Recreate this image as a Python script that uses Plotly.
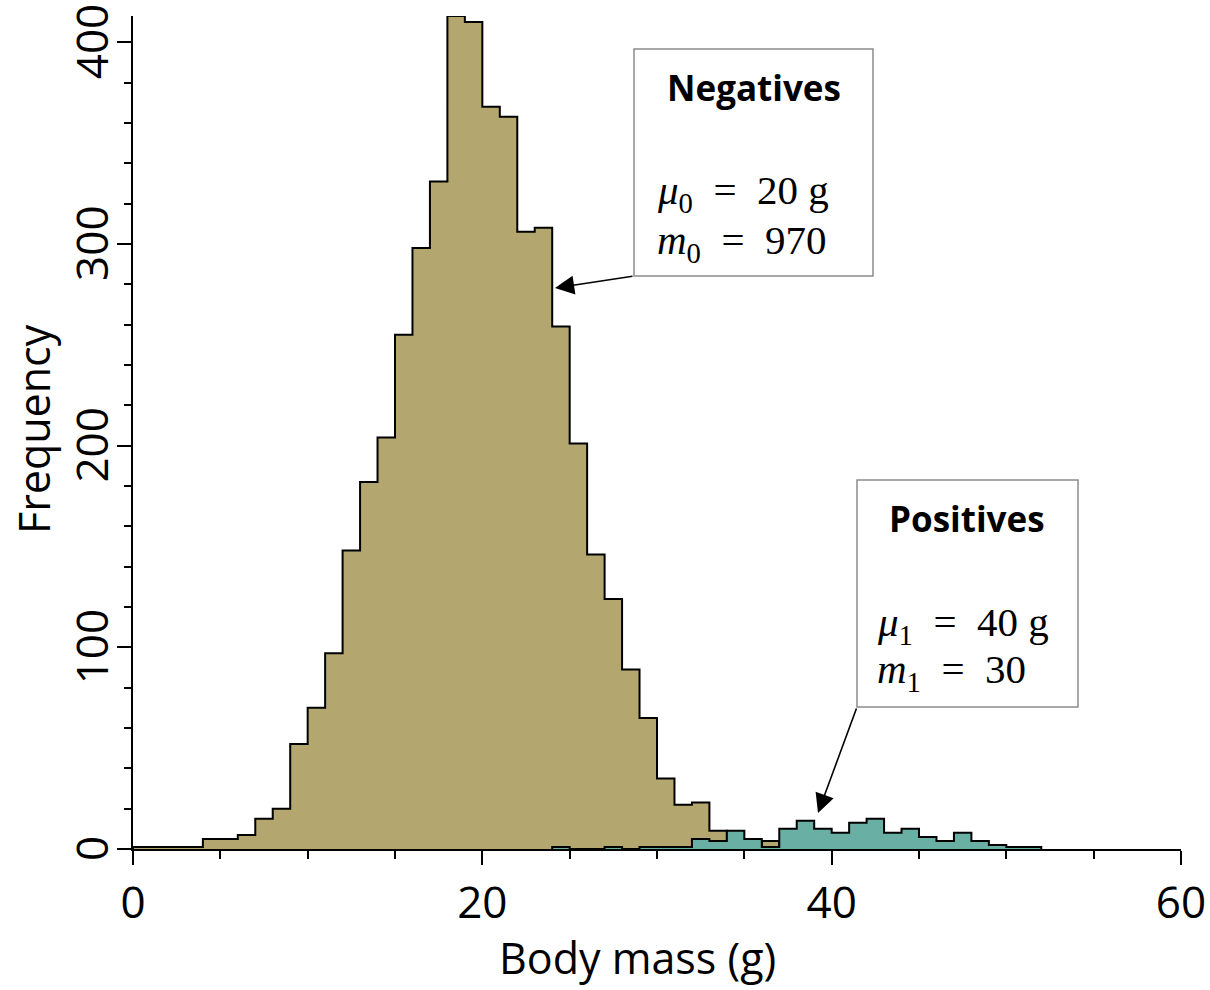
import plotly.graph_objects as go

# Histogram bins are 1 g wide; each count belongs to the bin starting at that mass.
neg_bin_start = [0, 1, 2, 3, 4, 5, 6, 7, 8, 9, 10, 11, 12, 13, 14, 15, 16, 17, 18,
                 19, 20, 21, 22, 23, 24, 25, 26, 27, 28, 29, 30, 31, 32, 33, 34, 35, 36]
neg_counts = [1, 1, 1, 1, 5, 5, 7, 15, 20, 52, 70, 97, 148, 182, 204, 255, 298, 331, 413,
              410, 368, 363, 306, 308, 259, 201, 146, 124, 89, 65, 35, 22, 23, 9, 3, 2, 4]

pos_bin_start = [24, 25, 26, 27, 28, 29, 30, 31, 32, 33, 34, 35, 36, 37, 38, 39, 40,
                 41, 42, 43, 44, 45, 46, 47, 48, 49, 50, 51]
pos_counts = [1, 0, 0, 1, 0, 1, 1, 1, 5, 4, 9, 5, 1, 10, 14, 10, 8,
              13, 15, 8, 10, 6, 4, 8, 4, 2, 1, 1]

BIN_W = 1
NEG_FILL = "#b3a66e"
POS_FILL = "#6aafa4"

x_ticks = [0, 20, 40, 60]
y_ticks = [0, 100, 200, 300, 400]
y_tick_labels = ["0", "100", "200", "300", "400"]

# plot-area geometry in pixels
W, H = 1210, 990
L, R, T, B = 133, 1181, 16, 849


def px(xp):
    return (xp - L) / (R - L)


def py(yp):
    return (B - yp) / (B - T)


def step_outline(starts, counts):
    """Closed step path (hv) for a histogram drawn from bin starts and counts."""
    xs = [starts[0]] + list(starts) + [starts[-1] + BIN_W]
    ys = [0] + list(counts) + [0]
    return xs, ys


fig = go.Figure()

nx, ny = step_outline(neg_bin_start, neg_counts)
fig.add_trace(go.Scatter(x=nx, y=ny, mode="lines", line=dict(shape="hv", color="black", width=2),
                         fill="tozeroy", fillcolor=NEG_FILL, hoverinfo="skip", showlegend=False))

pxs, pys = step_outline(pos_bin_start, pos_counts)
fig.add_trace(go.Scatter(x=pxs, y=pys, mode="lines", line=dict(shape="hv", color="black", width=2),
                         fill="tozeroy", fillcolor=POS_FILL, hoverinfo="skip", showlegend=False))

tick_font = dict(family="Open Sans", size=44, color="black")

fig.update_xaxes(range=[0, 60], tickvals=x_ticks, ticks="outside", ticklen=14, tickwidth=2,
                 tickcolor="black", showline=True, linecolor="black", linewidth=2,
                 showgrid=False, zeroline=False, tickfont=tick_font, automargin=False,
                 ticklabeloverflow="allow",
                 minor=dict(dtick=5, ticks="outside", ticklen=8, tickwidth=2, tickcolor="black"))
# y tick labels are placed as rotated annotations below
fig.update_yaxes(range=[0, 413], tickvals=y_ticks, ticks="outside", ticklen=14, tickwidth=2,
                 tickcolor="black", showline=True, linecolor="black", linewidth=2,
                 showgrid=False, zeroline=False, showticklabels=False, automargin=False,
                 minor=dict(dtick=20, ticks="outside", ticklen=7, tickwidth=2, tickcolor="black"))

shapes = [
    dict(type="rect", xref="paper", yref="paper", x0=px(634), x1=px(873), y0=py(276), y1=py(49),
         line=dict(color="#8c8c8c", width=1.5), fillcolor="white", layer="above"),
    dict(type="rect", xref="paper", yref="paper", x0=px(857), x1=px(1078), y0=py(707), y1=py(480),
         line=dict(color="#8c8c8c", width=1.5), fillcolor="white", layer="above"),
]

title_font = dict(family="Open Sans", size=43, color="black")
head_font = dict(family="Open Sans", size=35, color="black")
math_font = dict(family="Liberation Serif", size=41, color="black")


def text(x, y, s, font, xanchor="center", angle=0):
    return dict(x=px(x), y=py(y), xref="paper", yref="paper", text=s, showarrow=False,
                font=font, xanchor=xanchor, yanchor="middle", textangle=angle)


def arrow(tail, tip):
    return dict(x=px(tip[0]), y=py(tip[1]), xref="paper", yref="paper", text="",
                showarrow=True, ax=tail[0] - tip[0], ay=tail[1] - tip[1],
                arrowhead=2, arrowsize=2.4, arrowwidth=1.6, arrowcolor="black", standoff=0)


nbsp = "\u00a0"
annotations = [
    text(637, 957, "Body mass (g)", title_font),
    text(33, 429, "Frequency", title_font, angle=-90),
    text(754, 88, "<b>Negatives</b>", head_font),
    text(655, 193, f"<i>μ</i><sub>0</sub>{nbsp}{nbsp}={nbsp}{nbsp}20 g", math_font, xanchor="left"),
    text(655, 243, f"<i>m</i><sub>0</sub>{nbsp}{nbsp}={nbsp}{nbsp}970", math_font, xanchor="left"),
    text(967, 518, "<b>Positives</b>", head_font),
    text(875, 625, f"<i>μ</i><sub>1</sub>{nbsp}{nbsp}={nbsp}{nbsp}40 g", math_font, xanchor="left"),
    text(875, 672, f"<i>m</i><sub>1</sub>{nbsp}{nbsp}={nbsp}{nbsp}30", math_font, xanchor="left"),
    arrow((634, 276), (555, 288)),
    arrow((857, 707), (818, 813)),
]

for val, lab in zip(y_ticks, y_tick_labels):
    annotations.append(dict(x=px(91), y=val, xref="paper", yref="y", text=lab, showarrow=False,
                            font=tick_font, xanchor="center", yanchor="middle", textangle=-90))

fig.update_layout(width=W, height=H, margin=dict(l=L, r=W - R, t=T, b=H - B),
                  paper_bgcolor="white", plot_bgcolor="white",
                  shapes=shapes, annotations=annotations, showlegend=False)

fig.write_html("out.html")
